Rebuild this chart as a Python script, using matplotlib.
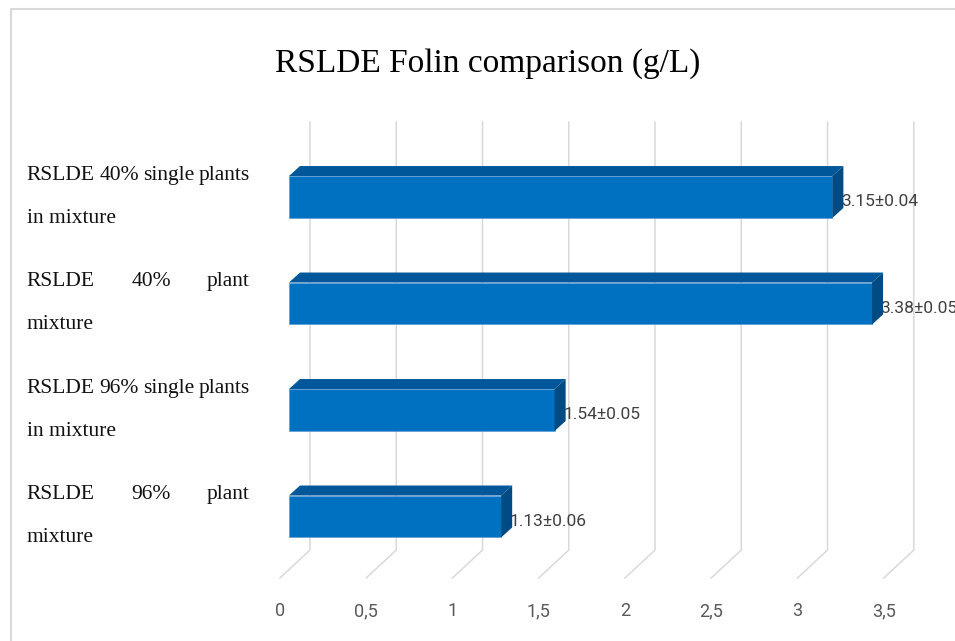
"""Recreate the RSLDE Folin comparison chart (Excel style 3D horizontal bars)."""

import matplotlib

matplotlib.use("Agg")
import matplotlib.pyplot as plt  # noqa: E402
from matplotlib.lines import Line2D  # noqa: E402
from matplotlib.patches import Polygon  # noqa: E402

# category names as wrapped in the original (first line justified)
CAT_FIRST = [
    "RSLDE 40% single plants",
    "RSLDE 40% plant",
    "RSLDE 96% single plants",
    "RSLDE 96% plant",
]
CAT_SECOND = ["in mixture", "mixture", "in mixture", "mixture"]
# bar lengths as drawn, and the text shown next to them
BAR_VALUES = [3.15, 3.38, 1.54, 1.23]
BAR_LABELS = ["3.15±0.04", "3.38±0.05", "1.54±0.05", "1.13±0.06"]
TICKS = [0, 0.5, 1, 1.5, 2, 2.5, 3, 3.5]
TICK_LABELS = ["0", "0,5", "1", "1,5", "2", "2,5", "3", "3,5"]

FRONT = "#0070c0"
TOP = "#00589a"
SIDE = "#004b84"
GRID = "#d9d9d9"
SERIF = ["Liberation Serif", "DejaVu Serif"]
SANS = ["Roboto", "DejaVu Sans"]

BAR_H = 0.394      # bar thickness in category units
DX, DY = 0.064, -0.094   # 3D depth of the bars
BACK, FRONT_OFF = 0.122, -0.052  # floor back / front edge offsets


def justify(fig, ax, text, x0, x1, y, **kw):
    words = text.split()
    objs = [ax.text(x0, y, w, ha="left", va="baseline", **kw) for w in words]
    r = fig.canvas.get_renderer()
    inv = ax.transData.inverted()
    widths = []
    for t in objs:
        bb = t.get_window_extent(renderer=r)
        a = inv.transform((bb.x0, 0))[0]
        b = inv.transform((bb.x1, 0))[0]
        widths.append(b - a)
    gap = (x1 - x0 - sum(widths)) / (len(words) - 1)
    x = x0
    for t, w in zip(objs, widths):
        t.set_x(x)
        x += w + gap


def main() -> None:
    fig = plt.figure(figsize=(9.55, 6.41), dpi=100)
    ax = fig.add_axes([0, 0, 1, 1])
    ax.set_xlim(-1.675, 3.861)
    ax.set_ylim(4.169, -1.850)
    ax.axis("off")

    # gridlines: back wall then bending onto the floor
    for t, lab in zip(TICKS, TICK_LABELS):
        ax.plot([t + BACK, t + BACK, t + FRONT_OFF], [-0.704, 3.315, 3.577],
                color=GRID, lw=1.1, zorder=1)
        ax.text(t + FRONT_OFF, 3.934, lab, ha="center", va="baseline",
                fontsize=13, color="#595959", family=SANS)

    ys = list(range(len(BAR_VALUES)))
    ax.barh(ys, BAR_VALUES, height=BAR_H, color=FRONT, edgecolor="#5b9bd5",
            linewidth=0.5, zorder=4)
    for y, v, lab in zip(ys, BAR_VALUES, BAR_LABELS):
        top, bot = y - BAR_H / 2, y + BAR_H / 2
        ax.add_patch(Polygon([(0, top), (v, top), (v + DX, top + DY), (DX, top + DY)],
                             closed=True, facecolor=TOP, edgecolor="none", zorder=4))
        ax.add_patch(Polygon([(v, top), (v + DX, top + DY), (v + DX, bot + DY), (v, bot)],
                             closed=True, facecolor=SIDE, edgecolor="none", zorder=4))
        ax.text(v + 0.05, y + 0.085, lab, ha="left", va="baseline", fontsize=12.5,
                color="#404040", family=SANS, zorder=3)

    for y, first, second in zip(ys, CAT_FIRST, CAT_SECOND):
        justify(fig, ax, first, -1.519, -0.226, y - 0.160, fontsize=15.5,
                color="#111111", family=SERIF)
        ax.text(-1.519, y + 0.244, second, ha="left", va="baseline", fontsize=15.5,
                color="#111111", family=SERIF)

    fig.text(0.5105, 1 - 72 / 641, "RSLDE Folin comparison (g/L)", ha="center",
             va="baseline", fontsize=24, color="#000000", family=SERIF)

    # chart area border (left and top visible)
    fig.add_artist(Line2D([11 / 955, 11 / 955, 1], [0, 1 - 9 / 641, 1 - 9 / 641],
                          color=GRID, lw=1.5, transform=fig.transFigure))

    fig.savefig("out.png", dpi=100)
    plt.close(fig)


if __name__ == "__main__":
    main()
